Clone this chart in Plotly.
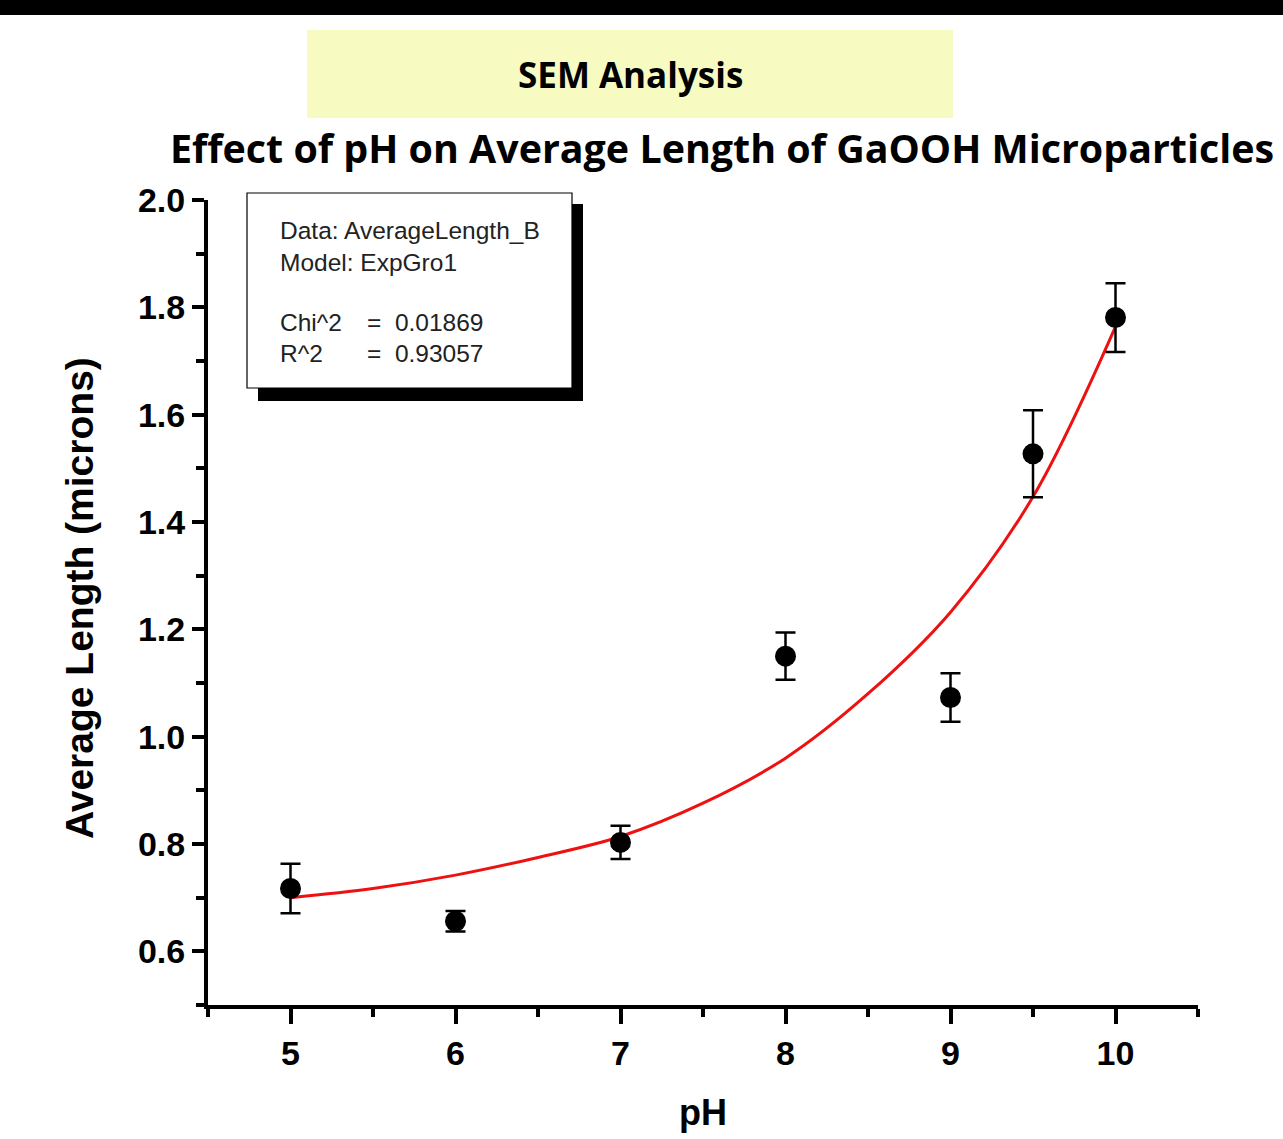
import plotly.graph_objects as go

W, H = 1283, 1139

# Data
ph = [5, 6, 7, 8, 9, 9.5, 10]
avg_length = [0.717, 0.656, 0.803, 1.150, 1.073, 1.527, 1.781]
length_err = [0.046, 0.019, 0.031, 0.044, 0.045, 0.081, 0.064]

fit_ph = [5, 5.5, 6, 6.5, 7, 7.5, 8, 8.5, 9, 9.5, 10]
fit_length = [0.700, 0.717, 0.742, 0.775, 0.814, 0.876, 0.960, 1.080, 1.232, 1.447, 1.764]

x_ticks = [5, 6, 7, 8, 9, 10]
y_ticks = [0.6, 0.8, 1.0, 1.2, 1.4, 1.6, 1.8, 2.0]

legend_labels = ["Data: AverageLength_B", "Model: ExpGro1", "", "Chi^2", "R^2"]
legend_values = ["", "", "", "=  0.01869", "=  0.93057"]

def px(x):
    return x / W

def py(y):
    return 1 - y / H

fig = go.Figure()

fig.add_trace(go.Scatter(
    x=fit_ph, y=fit_length, mode="lines", line=dict(color="#EE1111", width=3, shape="spline"),
    hoverinfo="skip", showlegend=False))

fig.add_trace(go.Scatter(
    x=ph, y=avg_length, mode="markers",
    marker=dict(color="black", size=21),
    error_y=dict(type="data", array=length_err, visible=True, color="black", thickness=2.5, width=10),
    showlegend=False))

axis_font = dict(family="Liberation Sans, Arial", size=34, color="black", weight="bold")
xtitle_font = dict(family="Liberation Sans, Arial", size=36, color="black", weight="bold")
ytitle_font = dict(family="Liberation Sans, Arial", size=39, color="black", weight="bold")

fig.update_layout(
    template="none",
    width=W, height=H,
    margin=dict(l=0, r=0, t=0, b=0, autoexpand=False),
    paper_bgcolor="white", plot_bgcolor="white",
    xaxis=dict(
        domain=[208 / W, 1198 / W], range=[4.5, 10.5], automargin=False,
        tickmode="array", tickvals=x_ticks, ticktext=[str(v) for v in x_ticks],
        showgrid=False, zeroline=False,
        showline=True, linecolor="black", linewidth=4,
        ticks="outside", ticklen=15, tickwidth=4, tickcolor="black",
        minor=dict(ticks="outside", ticklen=8, tickwidth=4, tickcolor="black", dtick=0.5, tick0=4.5),
        tickfont=axis_font, ticklabelstandoff=0,
    ),
    yaxis=dict(
        domain=[(H - 1005) / H, (H - 200) / H], range=[0.5, 2.0], automargin=False,
        tickmode="array", tickvals=y_ticks, ticktext=["%.1f" % v for v in y_ticks],
        showgrid=False, zeroline=False,
        showline=True, linecolor="black", linewidth=4,
        ticks="outside", ticklen=12, tickwidth=4, tickcolor="black",
        minor=dict(ticks="outside", ticklen=8, tickwidth=4, tickcolor="black", dtick=0.1, tick0=0.5),
        tickfont=axis_font, ticklabelstandoff=0,
    ),
)

shapes = []
# Black bar at top
shapes.append(dict(type="rect", xref="paper", yref="paper", x0=0, x1=1, y0=py(15), y1=1,
                   fillcolor="black", line=dict(width=0), layer="above"))
# Yellow header box
shapes.append(dict(type="rect", xref="paper", yref="paper", x0=px(307), x1=px(953), y0=py(118), y1=py(30),
                   fillcolor="#F7FBC1", line=dict(width=0), layer="above"))
# Fit stats box shadow + box
shapes.append(dict(type="rect", xref="paper", yref="paper", x0=px(258), x1=px(583), y0=py(401), y1=py(204),
                   fillcolor="black", line=dict(width=0), layer="above"))
shapes.append(dict(type="rect", xref="paper", yref="paper", x0=px(247), x1=px(572), y0=py(388), y1=py(193),
                   fillcolor="white", line=dict(color="black", width=1.2), layer="above"))
fig.update_layout(shapes=shapes)

ann = []
ann.append(dict(text="<b>SEM Analysis</b>", x=px(630), y=py(75), xref="paper", yref="paper",
                showarrow=False, xanchor="center", yanchor="middle",
                font=dict(family="Open Sans", size=35, color="black")))
ann.append(dict(text="<b>Effect of pH on Average Length of GaOOH Microparticles</b>", x=px(168), y=py(148),
                xref="paper", yref="paper", showarrow=False, xanchor="left", yanchor="middle",
                font=dict(family="Open Sans", size=39.4, color="black")))
# Axis titles
ann.append(dict(text="pH", x=px(703), y=py(1112), xref="paper", yref="paper", showarrow=False,
                xanchor="center", yanchor="middle", font=xtitle_font))
ann.append(dict(text="Average Length (microns)", x=px(79), y=py(598), xref="paper", yref="paper",
                showarrow=False, xanchor="center", yanchor="middle", textangle=-90, font=ytitle_font))

line_y = [231, 262, 292, 322, 353]
for lab, val, yy in zip(legend_labels, legend_values, line_y):
    if lab:
        ann.append(dict(text=lab, x=px(278), y=py(yy), xref="paper", yref="paper", showarrow=False,
                        xanchor="left", yanchor="middle",
                        font=dict(family="Liberation Sans, Arial", size=24.5, color="#222222")))
    if val:
        ann.append(dict(text=val, x=px(365), y=py(yy), xref="paper", yref="paper", showarrow=False,
                        xanchor="left", yanchor="middle",
                        font=dict(family="Liberation Sans, Arial", size=24.5, color="#222222")))
fig.update_layout(annotations=ann)

fig.write_html(
    "out.html",
    config={"displayModeBar": False},
    post_script="document.body.style.margin='0';document.body.style.overflow='hidden';",
)
